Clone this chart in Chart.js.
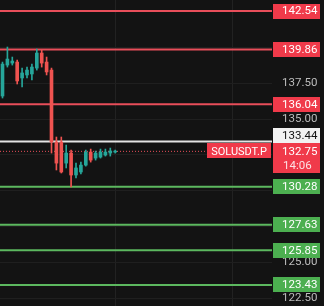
<!DOCTYPE html>
<html>
<head>
<meta charset="utf-8">
<script src="https://cdn.jsdelivr.net/npm/chart.js@4.4.1/dist/chart.umd.min.js"></script>
<style>
    html, body { margin: 0; padding: 0; background: #131313; }
    #wrap { width: 324px; height: 306px; position: relative; }
</style>
</head>
<body>
<div id="wrap"><canvas id="chart"></canvas></div>
<script>
// candles, oldest first
const candleOpen  = [136.61, 138.77, 138.91, 138.98, 137.87, 138.08, 138.15, 138.56, 139.61, 138.98, 138.42, 133.40,
                     133.40, 131.93, 132.63, 131.10, 131.31, 131.79, 132.70, 132.28, 132.35, 132.49, 132.63, 132.70];
const candleHigh  = [138.98, 140.03, 139.33, 139.12, 138.56, 138.63, 138.84, 139.89, 139.82, 139.33, 138.56, 133.75,
                     133.75, 133.19, 132.84, 131.93, 132.00, 132.84, 132.91, 132.77, 132.91, 132.91, 132.98, 132.84];
const candleLow   = [136.47, 138.63, 138.77, 137.45, 137.24, 137.87, 137.73, 138.42, 138.63, 138.08, 132.63, 131.45,
                     131.24, 131.59, 130.26, 130.89, 131.17, 131.72, 132.00, 132.14, 132.28, 132.42, 132.42, 132.63];
const candleClose = [138.84, 139.19, 139.05, 137.66, 138.22, 138.42, 138.63, 139.61, 138.91, 138.29, 133.40, 131.93,
                     131.31, 132.63, 131.10, 131.59, 131.79, 132.70, 132.14, 132.63, 132.70, 132.70, 132.77, 132.75];

const resistLevels  = [142.54, 139.86, 136.04];
const supportLevels = [130.28, 127.63, 125.85, 123.43];
const markLevel = 133.44;
const lastPrice = 132.75;
const symbol = 'SOLUSDT.P';
const countdown = '14:06';

const priceTicks = [122.5, 125, 127.5, 130, 132.5, 135, 137.5, 140, 142.5];
const timeGrid = [11, 35];

const X_MIN = -0.51, X_MAX = 55.0;
const Y_MIN = 121.96, Y_MAX = 143.31;

const UP = '#26a69a', DOWN = '#ef5350';
const RED_LINE = '#e84e5a', RED_TAG = '#f03a4a';
const GREEN_LINE = '#5cb85f', GREEN_TAG = '#4caf50';
const FONT = '"Roboto", "Liberation Sans", sans-serif';

const candleColor = candleOpen.map((o, i) => candleClose[i] >= o ? UP : DOWN);
const wicks = candleOpen.map((o, i) => ({ x: i, y: [candleLow[i], candleHigh[i]] }));
const bodies = candleOpen.map((o, i) => ({ x: i, y: [o, candleClose[i]] }));

const levelLine = (val, color, extra) => Object.assign({
    type: 'line',
    data: [{ x: X_MIN, y: val }, { x: X_MAX, y: val }],
    borderColor: color,
    borderWidth: 2,
    pointRadius: 0,
    order: 10
}, extra || {});

const datasets = [
    { type: 'bar', data: wicks, backgroundColor: candleColor, barThickness: 1, grouped: false, order: 2 },
    { type: 'bar', data: bodies, backgroundColor: candleColor, barThickness: 3, minBarLength: 1, grouped: false, order: 1 },
    ...resistLevels.map(v => levelLine(v, RED_LINE)),
    ...supportLevels.map(v => levelLine(v, GREEN_LINE)),
    levelLine(markLevel, '#e4e4e4'),
    levelLine(lastPrice, RED_LINE, { borderWidth: 1, borderDash: [1, 2] })
];

// price tags on the right scale
const levelTags = {
    id: 'levelTags',
    afterDraw(chart) {
        const ctx = chart.ctx;
        const y = chart.scales.y;
        const area = chart.chartArea;
        const left = area.right + 1, w = 47, h = 15, tx = area.right + 10;

        ctx.save();
        ctx.font = '11.5px ' + FONT;
        ctx.textBaseline = 'middle';
        ctx.textAlign = 'left';

        const tag = (val, bg, fg, cy) => {
            ctx.fillStyle = bg;
            ctx.fillRect(left, Math.round(cy - h / 2), w, h);
            ctx.fillStyle = fg;
            ctx.fillText(val.toFixed(2), tx, cy + 0.5);
        };

        resistLevels.forEach(v => tag(v, RED_TAG, '#ffffff', y.getPixelForValue(v)));
        supportLevels.forEach(v => tag(v, GREEN_TAG, '#ffffff', y.getPixelForValue(v)));

        // last price + countdown
        const py = y.getPixelForValue(lastPrice);
        ctx.fillStyle = RED_TAG;
        ctx.fillRect(left, Math.round(py - 8), w, 30);
        ctx.fillStyle = '#ffffff';
        ctx.fillText(lastPrice.toFixed(2), tx, py + 0.5);
        ctx.fillStyle = 'rgba(255,255,255,0.85)';
        ctx.fillText(countdown, tx + 1, py + 14.5);

        // marker line tag, pushed above the last price tag
        const my = Math.min(y.getPixelForValue(markLevel), py - 8 - h / 2);
        tag(markLevel, '#f2f2f2', '#131313', my);

        // symbol tag
        ctx.fillStyle = RED_TAG;
        ctx.fillRect(area.right - 65, Math.round(py - 8), 64, h);
        ctx.fillStyle = '#ffffff';
        ctx.font = '11px ' + FONT;
        ctx.textAlign = 'center';
        ctx.fillText(symbol, area.right - 33, py + 0.5);
        ctx.restore();
    }
};

new Chart(document.getElementById('chart'), {
    data: { datasets },
    options: {
        responsive: true,
        maintainAspectRatio: false,
        animation: false,
        layout: { padding: 0 },
        plugins: { legend: { display: false }, tooltip: { enabled: false } },
        scales: {
            x: {
                type: 'linear',
                min: X_MIN,
                max: X_MAX,
                offset: false,
                afterBuildTicks: s => { s.ticks = timeGrid.map(v => ({ value: v })); },
                afterFit: s => { s.height = 0; s.paddingLeft = 0; s.paddingRight = 0; },
                ticks: { display: false },
                grid: { color: '#222222', drawTicks: false },
                border: { display: false }
            },
            y: {
                position: 'right',
                min: Y_MIN,
                max: Y_MAX,
                afterBuildTicks: s => { s.ticks = priceTicks.map(v => ({ value: v })); },
                afterFit: s => { s.width = 52; s.paddingTop = 0; s.paddingBottom = 0; },
                ticks: {
                    padding: 10,
                    color: '#bdbdbd',
                    font: { family: FONT, size: 11.5 },
                    callback: v => v.toFixed(2)
                },
                grid: { color: '#1f1f1f', drawTicks: false },
                border: { display: false }
            }
        }
    },
    plugins: [levelTags]
});
</script>
</body>
</html>
